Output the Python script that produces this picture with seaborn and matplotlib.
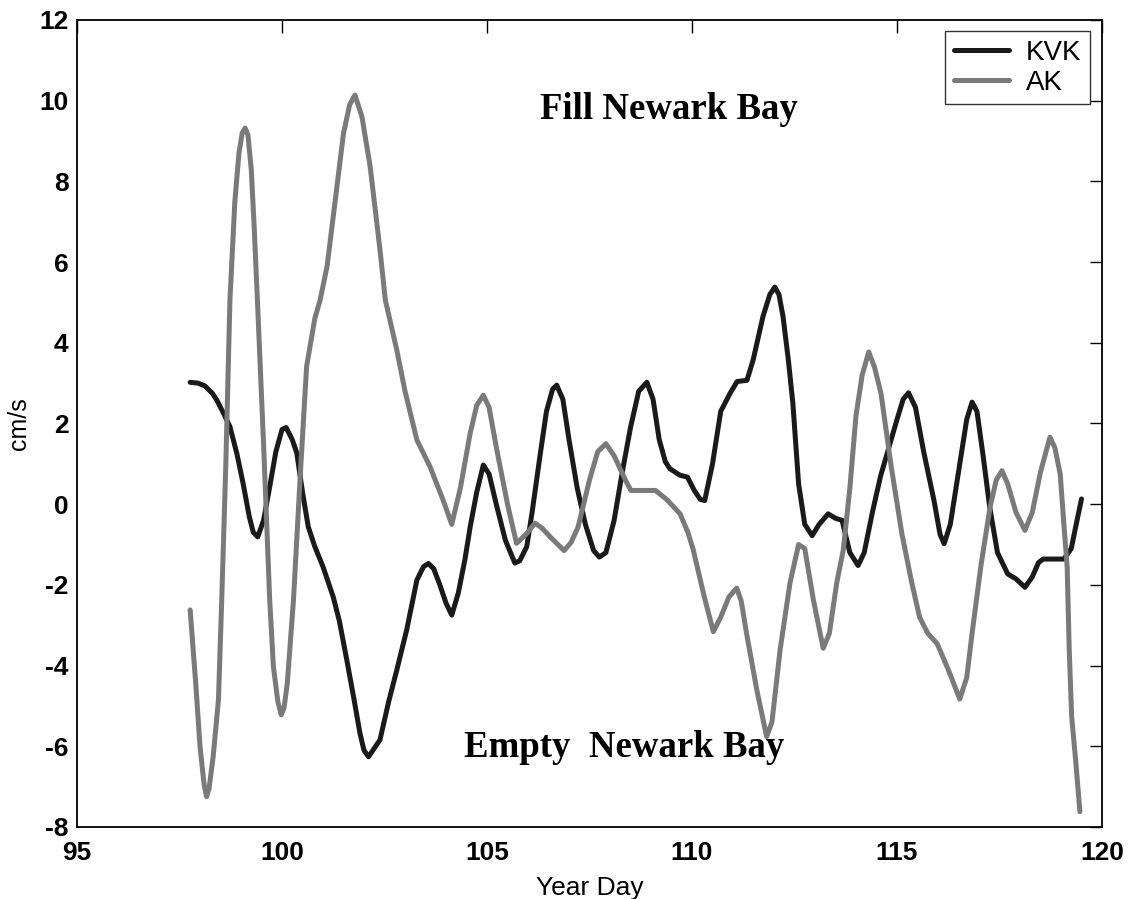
import numpy as np
import pandas as pd
import matplotlib
matplotlib.use("Agg")
import matplotlib.pyplot as plt
import seaborn as sns

# Subtidal current, KVK station (year day, cm/s)
kvk_day = [97.76, 97.95, 98.12, 98.30, 98.41, 98.60, 98.73, 98.90, 99.05, 99.20,
           99.30, 99.41, 99.55, 99.70, 99.85, 100.00, 100.10, 100.25, 100.36, 100.50,
           100.64, 100.80, 101.00, 101.25, 101.40, 101.58, 101.75, 101.90, 102.00, 102.11,
           102.25, 102.39, 102.60, 102.80, 103.04, 103.29, 103.45, 103.57, 103.70, 103.85,
           104.00, 104.14, 104.30, 104.46, 104.59, 104.75, 104.91, 105.05, 105.24, 105.45,
           105.68, 105.80, 105.97, 106.10, 106.29, 106.45, 106.60, 106.70, 106.85, 107.00,
           107.20, 107.40, 107.60, 107.74, 107.90, 108.10, 108.30, 108.50, 108.70, 108.90,
           109.05, 109.20, 109.35, 109.46, 109.70, 109.89, 110.05, 110.20, 110.31, 110.50,
           110.70, 110.93, 111.10, 111.34, 111.49, 111.73, 111.90, 112.02, 112.12, 112.22,
           112.35, 112.46, 112.60, 112.75, 112.93, 113.10, 113.32, 113.50, 113.66, 113.85,
           114.05, 114.20, 114.40, 114.60, 114.78, 115.00, 115.15, 115.28, 115.45, 115.65,
           115.90, 116.05, 116.15, 116.30, 116.50, 116.70, 116.83, 116.95, 117.10, 117.26,
           117.45, 117.70, 117.90, 118.12, 118.30, 118.45, 118.56, 118.80, 119.07, 119.25,
           119.35, 119.50]
kvk_val = [3.02, 3.00, 2.93, 2.75, 2.58, 2.20, 1.92, 1.25, 0.52, -0.30,
           -0.70, -0.81, -0.40, 0.43, 1.30, 1.85, 1.90, 1.60, 1.27, 0.30,
           -0.56, -1.05, -1.55, -2.30, -2.90, -3.86, -4.80, -5.67, -6.10, -6.26,
           -6.05, -5.84, -4.90, -4.11, -3.12, -1.88, -1.55, -1.47, -1.60, -2.00,
           -2.45, -2.75, -2.20, -1.38, -0.56, 0.30, 0.97, 0.75, -0.06, -0.90,
           -1.46, -1.40, -1.05, -0.20, 1.18, 2.30, 2.85, 2.95, 2.60, 1.60,
           0.40, -0.50, -1.15, -1.31, -1.20, -0.40, 0.80, 1.90, 2.80, 3.02,
           2.60, 1.60, 1.05, 0.88, 0.72, 0.67, 0.35, 0.12, 0.09, 1.00,
           2.30, 2.75, 3.04, 3.07, 3.57, 4.65, 5.20, 5.38, 5.20, 4.65,
           3.57, 2.50, 0.50, -0.50, -0.78, -0.50, -0.24, -0.35, -0.40, -1.20,
           -1.52, -1.20, -0.20, 0.70, 1.33, 2.10, 2.60, 2.76, 2.40, 1.30,
           0.10, -0.75, -0.98, -0.50, 0.80, 2.10, 2.53, 2.30, 1.20, -0.07,
           -1.20, -1.73, -1.85, -2.06, -1.80, -1.45, -1.36, -1.36, -1.36, -1.10,
           -0.60, 0.13]

# Subtidal current, AK station (year day, cm/s)
ak_day = [97.76, 97.90, 98.00, 98.10, 98.16, 98.22, 98.32, 98.45, 98.53, 98.63,
          98.73, 98.85, 98.95, 99.03, 99.10, 99.17, 99.25, 99.32, 99.40, 99.55,
          99.70, 99.79, 99.90, 99.98, 100.05, 100.13, 100.28, 100.45, 100.60, 100.80,
          100.93, 101.10, 101.25, 101.50, 101.65, 101.78, 101.95, 102.15, 102.39, 102.52,
          102.80, 103.00, 103.29, 103.61, 103.93, 104.14, 104.35, 104.59, 104.75, 104.91,
          105.05, 105.24, 105.50, 105.72, 105.95, 106.17, 106.35, 106.54, 106.88, 107.05,
          107.22, 107.50, 107.70, 107.90, 108.10, 108.38, 108.51, 108.80, 109.11, 109.40,
          109.71, 109.90, 110.03, 110.30, 110.52, 110.70, 110.90, 111.09, 111.20, 111.33,
          111.58, 111.82, 111.95, 112.15, 112.39, 112.60, 112.75, 112.96, 113.20, 113.35,
          113.53, 113.69, 113.85, 114.00, 114.15, 114.31, 114.45, 114.61, 114.86, 115.12,
          115.35, 115.55, 115.75, 115.98, 116.25, 116.53, 116.70, 116.83, 117.05, 117.27,
          117.42, 117.56, 117.70, 117.90, 118.12, 118.30, 118.50, 118.73, 118.85, 118.98,
          119.07, 119.15, 119.20, 119.26, 119.37, 119.46]
ak_val = [-2.62, -4.50, -6.00, -6.95, -7.25, -7.05, -6.26, -4.85, -2.37, 1.00,
          5.06, 7.50, 8.70, 9.20, 9.32, 9.15, 8.30, 6.90, 5.06, 1.50,
          -2.37, -4.03, -4.90, -5.22, -5.05, -4.43, -2.37, 0.80, 3.41, 4.60,
          5.06, 5.90, 7.13, 9.19, 9.90, 10.14, 9.60, 8.37, 6.30, 5.06,
          3.82, 2.80, 1.59, 0.93, 0.10, -0.50, 0.40, 1.76, 2.45, 2.70,
          2.40, 1.34, 0.00, -0.97, -0.75, -0.47, -0.60, -0.81, -1.15, -0.95,
          -0.57, 0.60, 1.30, 1.50, 1.20, 0.59, 0.34, 0.34, 0.34, 0.10,
          -0.24, -0.70, -1.13, -2.30, -3.16, -2.80, -2.30, -2.08, -2.40, -3.20,
          -4.60, -5.76, -5.40, -3.60, -1.95, -1.00, -1.10, -2.37, -3.57, -3.20,
          -1.95, -1.13, 0.40, 2.20, 3.20, 3.77, 3.40, 2.74, 0.92, -0.74,
          -1.90, -2.80, -3.20, -3.46, -4.10, -4.83, -4.30, -3.21, -1.50, -0.07,
          0.60, 0.83, 0.50, -0.20, -0.65, -0.20, 0.80, 1.66, 1.40, 0.75,
          -0.50, -1.56, -3.60, -5.27, -6.50, -7.62]

series_names = ["KVK", "AK"]
series_colors = ["#1a1a1a", "#7a7a7a"]
x_ticks = [95, 100, 105, 110, 115, 120]
y_ticks = [-8, -6, -4, -2, 0, 2, 4, 6, 8, 10, 12]

df = pd.concat([
    pd.DataFrame({"day": kvk_day, "vel": kvk_val, "station": "KVK"}),
    pd.DataFrame({"day": ak_day, "vel": ak_val, "station": "AK"}),
], ignore_index=True)

sns.set_style("white")
plt.rcParams["font.family"] = ["Liberation Sans", "DejaVu Sans"]
plt.rcParams["text.color"] = "black"
plt.rcParams["axes.labelcolor"] = "black"
plt.rcParams["axes.unicode_minus"] = False

fig = plt.figure(figsize=(11.34, 8.99), dpi=100)
ax = fig.add_axes([0.0679, 0.0801, 0.9039, 0.8977])

sns.lineplot(data=df, x="day", y="vel", hue="station", hue_order=series_names,
             palette=series_colors, linewidth=3.6, estimator=None, sort=True,
             ax=ax)

ax.set_xlim(95, 120)
ax.set_ylim(-8, 12)
ax.set_xticks(x_ticks)
ax.set_yticks(y_ticks)
ax.tick_params(direction="in", length=9, width=1.0, top=True, right=True,
               labelsize=19, colors="black")
ax.tick_params(axis="x", pad=10)
ax.tick_params(axis="y", pad=6)
for lab in ax.get_xticklabels() + ax.get_yticklabels():
    lab.set_fontweight("bold")
for sp in ax.spines.values():
    sp.set_visible(True)
    sp.set_color("black")
    sp.set_linewidth(1.3)

ax.set_xlabel("Year Day", fontsize=19, labelpad=8)
ax.set_ylabel("cm/s", fontsize=18, labelpad=6)

serif = ["Liberation Serif", "DejaVu Serif"]
ax.text(109.44, 9.77, "Fill Newark Bay", ha="center", va="center",
        fontsize=26.5, fontweight="bold", family=serif)
ax.text(108.34, -6.02, "Empty  Newark Bay", ha="center", va="center",
        fontsize=26.5, fontweight="bold", family=serif)

leg = ax.legend(loc="upper right", bbox_to_anchor=(0.988, 0.986),
                borderaxespad=0, fontsize=20, frameon=True, fancybox=False,
                handlelength=2.0, handletextpad=0.6, borderpad=0.3,
                labelspacing=0.15, title=None)
leg.get_frame().set_edgecolor("black")
leg.get_frame().set_linewidth(1.0)
for line in leg.get_lines():
    line.set_linewidth(3.6)
for t in leg.get_texts():
    t.set_color("black")

fig.savefig("out.png", dpi=100)
